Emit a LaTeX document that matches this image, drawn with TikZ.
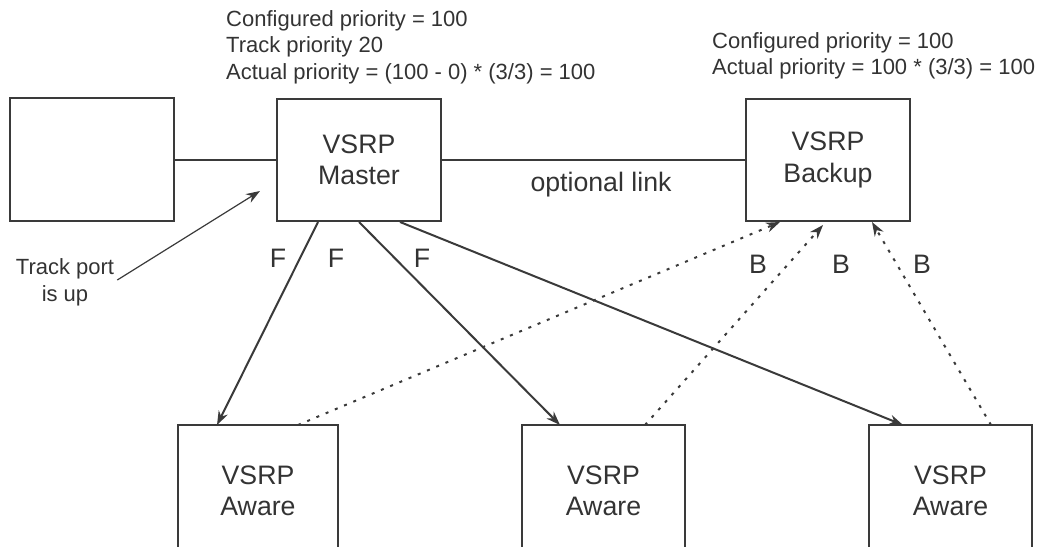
\documentclass[tikz,border=0pt]{standalone}
\usepackage{fontspec}
\setmainfont{Liberation Sans}
\usetikzlibrary{arrows.meta}
\definecolor{ink}{HTML}{3A3A3A}
\definecolor{txt}{HTML}{333333}
\begin{document}
\begin{tikzpicture}[x=1pt,y=-1pt,
  box/.style={draw=ink, line width=2pt, minimum width=164pt, minimum height=122pt, inner sep=0pt, align=center, text=txt, font=\fontsize{26.7}{31.6}\selectfont},
  openbox/.style={minimum width=162pt, minimum height=131pt, anchor=north, inner sep=0pt, align=center, text=txt, font=\fontsize{26.7}{31.6}\selectfont},
  note/.style={inner sep=0pt, align=left, text=txt, font=\fontsize{22}{26.7}\selectfont},
  big/.style={inner sep=0pt, text=txt, font=\fontsize{26.7}{31.6}\selectfont},
  link/.style={draw=ink, line width=2pt},
  fwd/.style={draw=ink, line width=2pt, -{Stealth[length=14pt,width=10pt]}},
  bwd/.style={draw=ink, line width=2pt, dash pattern=on 3pt off 7pt, -{Stealth[length=14pt,width=10pt]}},
  thin/.style={draw=ink, line width=1.2pt, -{Stealth[length=14pt,width=10pt]}},
]
\useasboundingbox (0,0) rectangle (1057,546);
\clip (0,0) rectangle (1057,546);
% boxes
\node[box, minimum height=123pt] (lb) at (92,159.5) {};
\node[box] (m) at (359,160) {VSRP\\Master};
\node[box] (bk) at (828,160) {VSRP\\Backup};
\node[openbox, minimum width=160pt] (a1) at (258,425) {VSRP\\Aware};
\node[openbox] (a2) at (603.5,425) {VSRP\\Aware};
\node[openbox] (a3) at (950.5,425) {VSRP\\Aware};
\foreach \n in {a1,a2,a3}
  \draw[link] (\n.south west) -- (\n.north west) -- (\n.north east) -- (\n.south east);
% texts
\node[note, anchor=north west] (t1) at (226,10) {Configured priority = 100\\Track priority 20\\Actual priority = (100 - 0) * (3/3) = 100};
\node[note, anchor=north west] (t2) at (712,32) {Configured priority = 100\\Actual priority = 100 * (3/3) = 100};
\node[note, align=center] (tp) at (65,282.6) {Track port\\is up};
\node[big] (ol) at (601,184.7) {optional link};
\node[big] (f1) at (278,258) {F};
\node[big] (f2) at (336,258) {F};
\node[big] (f3) at (422,258) {F};
\node[big] (b1) at (758,264) {B};
\node[big] (b2) at (841,264) {B};
\node[big] (b3) at (922,264) {B};
% links
\draw[link] (lb.east) -- (lb.east -| m.west);
\draw[link] (m.east) -- (bk.west);
\coordinate (tpt) at (260,191);
\draw[thin] ([shift={(3,-2.6)}]tp.east) -- (tpt);
% forward
\draw[fwd] ([xshift=-41pt]m.south) -- ([xshift=-41pt]a1.north);
\draw[fwd] (m.south) -- ([xshift=-43.5pt]a2.north);
\draw[fwd] ([xshift=41pt]m.south) -- ([xshift=-47.5pt]a3.north);
% backward
\draw[bwd] ([xshift=40pt]a1.north) -- ([xshift=-48pt]bk.south);
\draw[bwd] ([xshift=41.5pt]a2.north) -- ([xshift=-5pt,yshift=-3pt]bk.south);
\draw[bwd] ([xshift=40.5pt]a3.north) -- ([xshift=44pt]bk.south);
\end{tikzpicture}
\end{document}
